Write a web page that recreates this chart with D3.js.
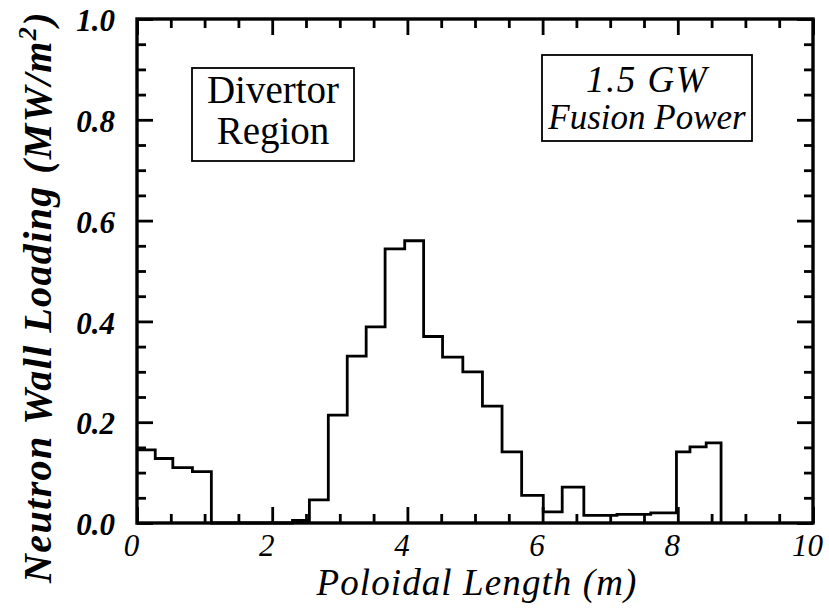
<!DOCTYPE html>
<html>
<head>
<meta charset="utf-8">
<script src="https://cdn.jsdelivr.net/npm/d3@7"></script>
<style>
  html, body { margin: 0; padding: 0; background: #fff; }
  svg { display: block; }
</style>
</head>
<body>
<svg id="chart" width="829" height="612"></svg>
<script>
// ---- data ----
const binEdges = [0, 0.27, 0.53, 0.82, 1.10, 2.30, 2.55, 2.83, 3.11, 3.39, 3.67, 3.96, 4.24, 4.52, 4.82, 5.11, 5.40, 5.69, 6.01, 6.29, 6.61, 7.10, 7.60, 7.98, 8.18, 8.42, 8.64];
const wallLoading = [0.145, 0.128, 0.110, 0.102, 0.0, 0.005, 0.046, 0.214, 0.331, 0.389, 0.544, 0.560, 0.370, 0.329, 0.300, 0.232, 0.141, 0.055, 0.022, 0.071, 0.015, 0.017, 0.020, 0.141, 0.151, 0.159];
const xMajorTicks = [0, 2, 4, 6, 8, 10];
const xMinorTicks = [0.5, 1, 1.5, 2.5, 3, 3.5, 4.5, 5, 5.5, 6.5, 7, 7.5, 8.5, 9, 9.5];
const yMajorTicks = [0, 0.2, 0.4, 0.6, 0.8, 1.0];
const yMinorTicks = [0.05, 0.1, 0.15, 0.25, 0.3, 0.35, 0.45, 0.5, 0.55, 0.65, 0.7, 0.75, 0.85, 0.9, 0.95];
const xTickLabels = ["0", "2", "4", "6", "8", "10"];
const yTickLabels = ["0.0", "0.2", "0.4", "0.6", "0.8", "1.0"];
const xTitle = "Poloidal Length (m)";
const yTitle = "Neutron Wall Loading (MW/m";
const boxLeft = ["Divertor", "Region"];
const boxRight = ["1.5 GW", "Fusion Power"];

// ---- layout ----
const svg = d3.select("#chart");
const L = 137, R = 813, T = 19, B = 523;
const x = d3.scaleLinear().domain([0, 10]).range([L, R]);
const y = d3.scaleLinear().domain([0, 1]).range([B, T]);
const serif = "'Liberation Serif', 'Times New Roman', serif";

// step line
const pts = binEdges.slice(0, -1).map((e, i) => [e, wallLoading[i]]);
pts.push([binEdges[binEdges.length - 1], wallLoading[wallLoading.length - 1]]);
const line = d3.line().x(d => x(d[0])).y(d => y(d[1])).curve(d3.curveStepAfter);
svg.append("path")
  .attr("d", line(pts) + "L" + x(binEdges[binEdges.length - 1]) + "," + y(0))
  .attr("fill", "none").attr("stroke", "#000").attr("stroke-width", 2.8)
  .attr("stroke-linejoin", "miter");

// axes (ticks inside, mirrored)
function drawAxis(axisFn, scale, transform, vals, size, labels) {
  const a = axisFn(scale).tickValues(vals).tickSize(size).tickSizeOuter(0);
  if (labels) a.tickFormat((d, i) => labels[i]); else a.tickFormat("");
  const g = svg.append("g").attr("transform", transform).call(a);
  g.select(".domain").remove();
  g.selectAll(".tick line").attr("stroke", "#000").attr("stroke-width", 2.8);
  return g;
}
// bottom
const gx = drawAxis(d3.axisBottom, x, `translate(0,${B})`, xMajorTicks, -16, xTickLabels);
drawAxis(d3.axisBottom, x, `translate(0,${B})`, xMinorTicks, -9, null);
// top
drawAxis(d3.axisTop, x, `translate(0,${T})`, xMajorTicks, -16, null);
drawAxis(d3.axisTop, x, `translate(0,${T})`, xMinorTicks, -9, null);
// left
const gy = drawAxis(d3.axisLeft, y, `translate(${L},0)`, yMajorTicks, -16, yTickLabels);
drawAxis(d3.axisLeft, y, `translate(${L},0)`, yMinorTicks, -9, null);
// right
drawAxis(d3.axisRight, y, `translate(${R},0)`, yMajorTicks, -16, null);
drawAxis(d3.axisRight, y, `translate(${R},0)`, yMinorTicks, -9, null);

gx.selectAll(".tick text")
  .attr("y", 0).attr("dy", 33).attr("dx", -6)
  .attr("font-family", serif).attr("font-style", "italic")
  .attr("font-size", 31).attr("fill", "#000");
gy.selectAll(".tick text")
  .attr("x", -22).attr("dy", "0.38em")
  .attr("font-family", serif).attr("font-style", "italic").attr("font-weight", "bold")
  .attr("font-size", 31).attr("fill", "#000");

// frame
svg.append("rect").attr("x", L).attr("y", T).attr("width", R - L).attr("height", B - T)
  .attr("fill", "none").attr("stroke", "#000").attr("stroke-width", 3.4);

// axis titles
svg.append("text").attr("x", 477).attr("y", 595)
  .attr("text-anchor", "middle").attr("font-family", serif).attr("font-style", "italic")
  .attr("font-size", 37).attr("letter-spacing", 1.1).text(xTitle);

const yt = svg.append("text").attr("transform", `translate(51,297) rotate(-90)`)
  .attr("text-anchor", "middle").attr("font-family", serif).attr("font-style", "italic")
  .attr("font-weight", "bold").attr("font-size", 40).attr("letter-spacing", 1.4);
yt.append("tspan").text(yTitle);
yt.append("tspan").attr("dy", -15).attr("font-size", 26).text("2");
yt.append("tspan").attr("dy", 15).text(")");

// annotation boxes
function box(x0, y0, w, h, lines, baselines, italic, fs, spacing) {
  svg.append("rect").attr("x", x0).attr("y", y0).attr("width", w).attr("height", h)
    .attr("fill", "#fff").attr("stroke", "#000").attr("stroke-width", 1.8);
  lines.forEach((t, i) => {
    svg.append("text").attr("x", x0 + w / 2).attr("y", baselines[i])
      .attr("text-anchor", "middle").attr("font-family", serif)
      .attr("font-style", italic ? "italic" : "normal").attr("font-size", fs[i])
      .attr("letter-spacing", spacing[i]).text(t);
  });
}
box(192, 68, 162, 93, boxLeft, [103, 144], false, [39, 39], [0, 0]);
box(542, 55, 210, 86, boxRight, [92, 129], true, [37, 35], [1.5, 0]);
</script>
</body>
</html>
